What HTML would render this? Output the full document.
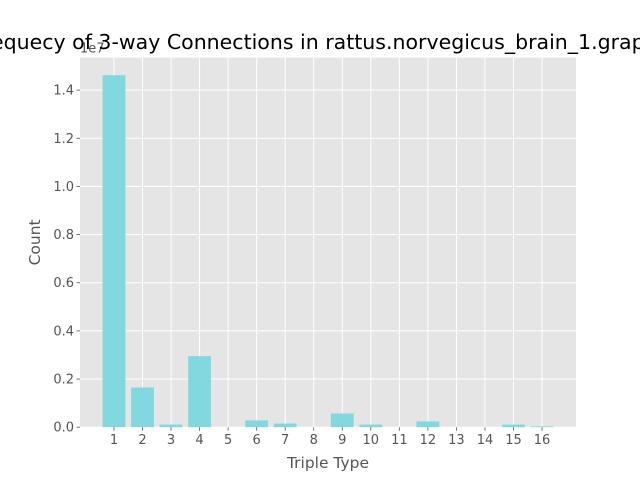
<!DOCTYPE html>
<html><head><meta charset="utf-8"><style>
html,body{margin:0;padding:0;background:#fff;width:640px;height:480px;overflow:hidden}
svg{font-family:"DejaVu Sans","Liberation Sans",sans-serif}
</style></head><body>
<svg id="chart" width="640" height="480" viewBox="0 0 640 480"></svg>
<script>
const categories=[1,2,3,4,5,6,7,8,9,10,11,12,13,14,15,16];
const counts=[14620000,1650000,110000,2950000,0,280000,150000,0,570000,110000,0,240000,0,0,110000,30000];
const yTicks=[0,0.2,0.4,0.6,0.8,1.0,1.2,1.4];
const yTickLabels=["0.0","0.2","0.4","0.6","0.8","1.0","1.2","1.4"];
const NS="http://www.w3.org/2000/svg";
const svg=document.getElementById('chart');
const L=80,R=576,T=57.6,B=427.2;
const ymax=Math.max(...counts)*1.05;
const xmin=0.6-0.79,xmax=16.4+0.79;
const sx=v=>L+(v-xmin)/(xmax-xmin)*(R-L);
const sy=v=>B-v/ymax*(B-T);
function mk(tag,attrs,parent){const e=document.createElementNS(NS,tag);for(const k in attrs)e.setAttribute(k,attrs[k]);(parent||svg).appendChild(e);return e;}
const bg=mk('rect',{x:L,y:T,width:R-L,height:B-T,fill:'#e5e5e5'});


yTicks.forEach((t,i)=>{const y=sy(t*1e7);
const g=mk('line',{x1:L,x2:R,y1:y,y2:y,stroke:'#fff','stroke-width':1});


const tk=mk('line',{x1:L-3.5,x2:L,y1:y,y2:y,stroke:'#555','stroke-width':0.8});


const tx=mk('text',{x:L-6,y:y+4.5,'text-anchor':'end','font-size':13,fill:'#555'});
tx.textContent=yTickLabels[i];


});
categories.forEach((c,i)=>{const x=sx(c);
const g=mk('line',{x1:x,x2:x,y1:T,y2:B,stroke:'#fff','stroke-width':1});


});
categories.forEach((c,i)=>{const x0=sx(c-0.4),x1=sx(c+0.4);const y=sy(counts[i]);
const b=mk('rect',{x:x0,y:y,width:x1-x0,height:B-y,fill:'#81d8df'});


const x=sx(c);
const tk=mk('line',{x1:x,x2:x,y1:B,y2:B+3.5,stroke:'#555','stroke-width':0.8});


const tx=mk('text',{x:x,y:B+17,'text-anchor':'middle','font-size':13,fill:'#555'});
tx.textContent=c;


});
const off=mk('text',{x:L,y:T-5,'font-size':13,fill:'#555'});
off.textContent='1e7';


const xl=mk('text',{x:(L+R)/2,y:468,'text-anchor':'middle','font-size':15.5,fill:'#555'});
xl.textContent='Triple Type';


const yl=mk('text',{x:0,y:0,'text-anchor':'middle','font-size':15.5,fill:'#555',transform:`translate(40,${(T+B)/2}) rotate(-90)`});
yl.textContent='Count';


const ti=mk('text',{x:(L+R)/2,y:49,'text-anchor':'middle','font-size':20.5,fill:'#000'});
ti.textContent='Frequecy of 3-way Connections in rattus.norvegicus_brain_1.graphml';


</script>
</body></html>
